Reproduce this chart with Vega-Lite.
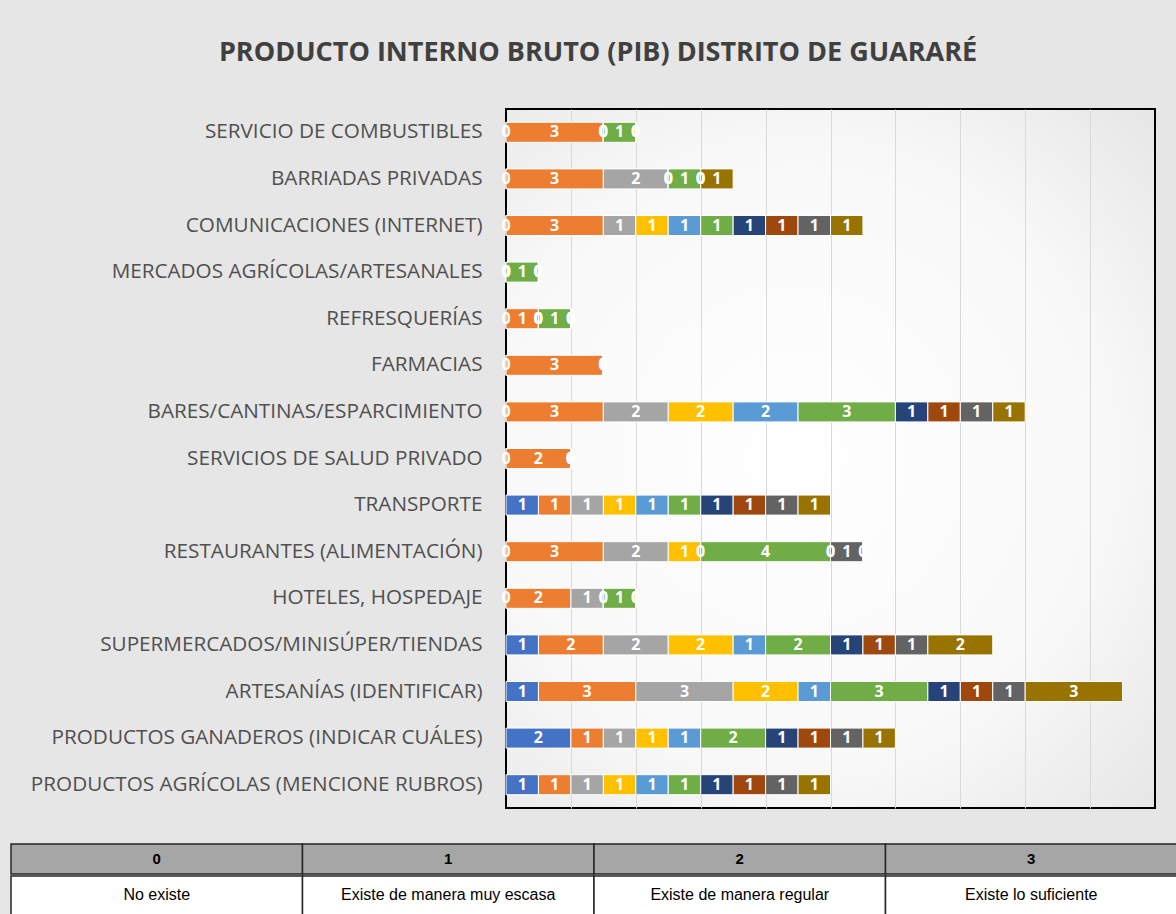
{
  "$schema": "https://vega.github.io/schema/vega-lite/v6.json",
  "background": "#e6e6e6",
  "padding": {"left": 10, "top": 38, "right": 0, "bottom": 0},
  "spacing": 34,
  "datasets": {
    "pib": [
      {"cat": "SERVICIO DE COMBUSTIBLES", "S01": 0, "S02": 3, "S03": 0, "S04": 0, "S05": 0, "S06": 1, "S07": 0, "S08": 0, "S09": 0, "S10": 0},
      {"cat": "BARRIADAS PRIVADAS", "S01": 0, "S02": 3, "S03": 2, "S04": 0, "S05": 0, "S06": 1, "S07": 0, "S08": 0, "S09": 0, "S10": 1},
      {"cat": "COMUNICACIONES (INTERNET)", "S01": 0, "S02": 3, "S03": 1, "S04": 1, "S05": 1, "S06": 1, "S07": 1, "S08": 1, "S09": 1, "S10": 1},
      {"cat": "MERCADOS AGRÍCOLAS/ARTESANALES", "S01": 0, "S02": 0, "S03": 0, "S04": 0, "S05": 0, "S06": 1, "S07": 0, "S08": 0, "S09": 0, "S10": 0},
      {"cat": "REFRESQUERÍAS", "S01": 0, "S02": 1, "S03": 0, "S04": 0, "S05": 0, "S06": 1, "S07": 0, "S08": 0, "S09": 0, "S10": 0},
      {"cat": "FARMACIAS", "S01": 0, "S02": 3, "S03": 0, "S04": 0, "S05": 0, "S06": 0, "S07": 0, "S08": 0, "S09": 0, "S10": 0},
      {"cat": "BARES/CANTINAS/ESPARCIMIENTO", "S01": 0, "S02": 3, "S03": 2, "S04": 2, "S05": 2, "S06": 3, "S07": 1, "S08": 1, "S09": 1, "S10": 1},
      {"cat": "SERVICIOS DE SALUD PRIVADO", "S01": 0, "S02": 2, "S03": 0, "S04": 0, "S05": 0, "S06": 0, "S07": 0, "S08": 0, "S09": 0, "S10": 0},
      {"cat": "TRANSPORTE", "S01": 1, "S02": 1, "S03": 1, "S04": 1, "S05": 1, "S06": 1, "S07": 1, "S08": 1, "S09": 1, "S10": 1},
      {"cat": "RESTAURANTES (ALIMENTACIÓN)", "S01": 0, "S02": 3, "S03": 2, "S04": 1, "S05": 0, "S06": 4, "S07": 0, "S08": 0, "S09": 1, "S10": 0},
      {"cat": "HOTELES, HOSPEDAJE", "S01": 0, "S02": 2, "S03": 1, "S04": 0, "S05": 0, "S06": 1, "S07": 0, "S08": 0, "S09": 0, "S10": 0},
      {"cat": "SUPERMERCADOS/MINISÚPER/TIENDAS", "S01": 1, "S02": 2, "S03": 2, "S04": 2, "S05": 1, "S06": 2, "S07": 1, "S08": 1, "S09": 1, "S10": 2},
      {"cat": "ARTESANÍAS (IDENTIFICAR)", "S01": 1, "S02": 3, "S03": 3, "S04": 2, "S05": 1, "S06": 3, "S07": 1, "S08": 1, "S09": 1, "S10": 3},
      {"cat": "PRODUCTOS GANADEROS (INDICAR CUÁLES)", "S01": 2, "S02": 1, "S03": 1, "S04": 1, "S05": 1, "S06": 2, "S07": 1, "S08": 1, "S09": 1, "S10": 1},
      {"cat": "PRODUCTOS AGRÍCOLAS (MENCIONE RUBROS)", "S01": 1, "S02": 1, "S03": 1, "S04": 1, "S05": 1, "S06": 1, "S07": 1, "S08": 1, "S09": 1, "S10": 1}
    ],
    "tabla": [
      {"col": "0", "desc": "No existe"},
      {"col": "1", "desc": "Existe de manera muy escasa"},
      {"col": "2", "desc": "Existe de manera regular"},
      {"col": "3", "desc": "Existe lo suficiente"}
    ]
  },
  "vconcat": [
    {
      "width": 649,
      "height": 699,
      "title": {"text": "PRODUCTO INTERNO BRUTO (PIB) DISTRITO DE GUARARÉ", "anchor": "middle", "frame": "bounds", "font": "Open Sans", "fontSize": 27, "fontWeight": "bold", "color": "#404040", "offset": 42, "dx": 15},
      "view": {"stroke": "black", "strokeWidth": 2, "fill": {"gradient": "radial", "x1": 0.45, "y1": 0.5, "r1": 0, "x2": 0.45, "y2": 0.5, "r2": 0.75, "stops": [{"offset": 0, "color": "#ffffff"}, {"offset": 0.6, "color": "#f8f8f8"}, {"offset": 1, "color": "#e4e4e4"}]}},
      "data": {"name": "pib"},
      "transform": [
        {"fold": ["S01", "S02", "S03", "S04", "S05", "S06", "S07", "S08", "S09", "S10"], "as": ["serie", "value"]},
        {"stack": "value", "groupby": ["cat"], "sort": [{"field": "serie", "order": "ascending"}], "as": ["x0", "x1"]}
      ],
      "encoding": {
        "y": {
          "field": "cat", "type": "nominal",
          "sort": ["SERVICIO DE COMBUSTIBLES", "BARRIADAS PRIVADAS", "COMUNICACIONES (INTERNET)", "MERCADOS AGRÍCOLAS/ARTESANALES", "REFRESQUERÍAS", "FARMACIAS", "BARES/CANTINAS/ESPARCIMIENTO", "SERVICIOS DE SALUD PRIVADO", "TRANSPORTE", "RESTAURANTES (ALIMENTACIÓN)", "HOTELES, HOSPEDAJE", "SUPERMERCADOS/MINISÚPER/TIENDAS", "ARTESANÍAS (IDENTIFICAR)", "PRODUCTOS GANADEROS (INDICAR CUÁLES)", "PRODUCTOS AGRÍCOLAS (MENCIONE RUBROS)"],
          "scale": {"paddingInner": 0.57, "paddingOuter": 0.285},
          "axis": {"title": null, "labelFont": "Open Sans", "labelFontSize": 20.7, "labelColor": "#505050", "labelPadding": 24, "labelLimit": 600, "ticks": false, "domain": false, "grid": false, "minExtent": 495, "maxExtent": 495}
        }
      },
      "layer": [
        {
          "mark": {"type": "bar", "stroke": "white", "strokeWidth": 1},
          "encoding": {
            "x": {"field": "x0", "type": "quantitative", "scale": {"domain": [0, 20], "nice": false},
                  "axis": {"values": [2, 4, 6, 8, 10, 12, 14, 16, 18], "labels": false, "ticks": false, "domain": false, "title": null, "grid": true, "gridColor": "#d9d9d9", "gridWidth": 1}},
            "x2": {"field": "x1"},
            "color": {"field": "serie", "type": "nominal", "legend": null,
                      "scale": {"domain": ["S01", "S02", "S03", "S04", "S05", "S06", "S07", "S08", "S09", "S10"],
                                "range": ["#4472C4", "#ED7D31", "#A5A5A5", "#FFC000", "#5B9BD5", "#70AD47", "#264478", "#9E480E", "#636363", "#997300"]}}
          }
        },
        {
          "mark": {"type": "text", "color": "white", "fontWeight": "bold", "fontSize": 16, "font": "Open Sans", "baseline": "middle", "dx": {"expr": "-datum.value * 16.225"}},
          "encoding": {
            "x": {"field": "x1", "type": "quantitative"},
            "text": {"field": "value", "type": "quantitative"}
          }
        }
      ]
    },
    {
      "spacing": 0,
      "vconcat": [
        {
          "width": 671,
          "height": 30,
          "data": {"name": "tabla"},
          "view": {"stroke": null},
          "encoding": {"x": {"field": "col", "type": "nominal", "scale": {"paddingInner": 0, "paddingOuter": 0, "range": [-495, 671]}, "axis": null}},
          "layer": [
            {"mark": {"type": "rect", "fill": "#a6a6a6", "stroke": "#262626", "strokeWidth": 1.5}},
            {"mark": {"type": "text", "font": "Liberation Sans Narrow, Liberation Sans", "fontSize": 15, "fontWeight": "bold", "color": "black"}, "encoding": {"text": {"field": "col"}}}
          ]
        },
        {
          "width": 671,
          "height": 45,
          "data": {"name": "tabla"},
          "view": {"stroke": null},
          "encoding": {"x": {"field": "col", "type": "nominal", "scale": {"paddingInner": 0, "paddingOuter": 0, "range": [-495, 671]}, "axis": null}},
          "layer": [
            {"mark": {"type": "rect", "fill": "white", "stroke": "#262626", "strokeWidth": 1.5}},
            {"mark": {"type": "text", "font": "Liberation Sans Narrow, Liberation Sans", "fontSize": 16, "color": "black", "dy": -4}, "encoding": {"text": {"field": "desc"}}}
          ]
        }
      ]
    }
  ]
}
